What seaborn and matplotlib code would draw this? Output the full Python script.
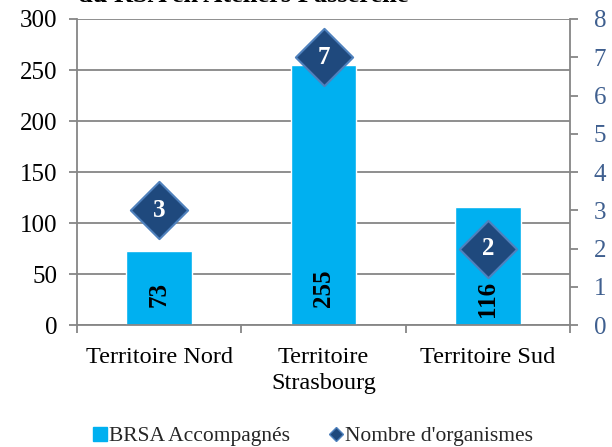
import pandas as pd
import matplotlib
matplotlib.use("Agg")
import matplotlib.pyplot as plt
import seaborn as sns
from matplotlib.lines import Line2D

# data
territoires = ['Territoire Nord', 'Territoire\nStrasbourg', 'Territoire Sud']
brsa_accompagnes = [73, 255, 116]
nb_organismes = [3, 7, 2]

bar_color = '#00B0F0'
diamond_face = '#1F497D'
diamond_edge = '#4F81BD'
grid_grey = '#868686'
right_color = '#3F5F8F'
label_pad = [13, 13, 6]  # offset of the rotated labels above the bar base (pt)

df = pd.DataFrame({'Territoire': territoires,
                   'BRSA': brsa_accompagnes,
                   'Organismes': nb_organismes})

sns.set_theme(style='white')
plt.rcParams['font.family'] = ['Liberation Serif', 'DejaVu Serif']

fig = plt.figure(figsize=(6.12, 4.47), dpi=100)
ax = fig.add_axes([0.1258, 0.2729, 0.8056, 0.6846])

sns.barplot(data=df, x='Territoire', y='BRSA', color=bar_color, width=0.4,
            saturation=1, ax=ax, zorder=2)
ax.set_ylim(0, 300)
ax.set_xlim(-0.5, 2.5)
ax.set_yticks(range(0, 301, 50))
ax.yaxis.grid(True, color=grid_grey, linewidth=1.3, zorder=0)
ax.set_axisbelow(True)
ax.set_xlabel('')
ax.set_ylabel('')
for side in ['left', 'right', 'bottom']:
    ax.spines[side].set_color(grid_grey)
    ax.spines[side].set_linewidth(1.3)
ax.spines['top'].set_visible(False)
ax.tick_params(axis='y', colors=grid_grey, labelcolor='black', labelsize=18,
               length=6, width=1.3, direction='out', left=True, pad=8)
ax.set_xticks(range(len(territoires)), labels=territoires, linespacing=1.3)
ax.tick_params(axis='x', labelsize=17.5, length=0, pad=16, labelcolor='black')
ax.set_xticks([-0.5, 0.5, 1.5, 2.5], minor=True)
ax.tick_params(axis='x', which='minor', length=6, width=1.3, colors=grid_grey,
               direction='out', bottom=True)

for i, v in enumerate(brsa_accompagnes):
    ax.annotate(str(v), xy=(i, 0), xytext=(0, label_pad[i]),
                textcoords='offset points', ha='center', va='bottom',
                rotation=90, fontsize=18, fontweight='bold', color='black',
                zorder=3)

ax2 = ax.twinx()
sns.scatterplot(x=list(range(len(territoires))), y=nb_organismes, marker='D',
                s=850, color=diamond_face, edgecolor=diamond_edge,
                linewidth=1.5, ax=ax2, zorder=4, legend=False)
ax2.set_ylim(0, 8)
ax2.set_yticks(range(0, 9))
for side in ['left', 'right', 'bottom', 'top']:
    ax2.spines[side].set_visible(False)
ax2.tick_params(axis='y', colors=grid_grey, labelcolor=right_color,
                labelsize=18, length=6, width=1.3, direction='out', right=True,
                pad=11)
for i, v in enumerate(nb_organismes):
    ax2.text(i, v, str(v), ha='center', va='center', fontsize=18,
             fontweight='bold', color='white', zorder=5)

fig.text(0.397, 1 - 1.5 / 447, 'du RSA en Ateliers Passerelle', ha='center',
         va='baseline', fontsize=19, fontweight='bold', color='black')

handles = [Line2D([], [], marker='s', linestyle='', markersize=10,
                  markerfacecolor=bar_color, markeredgecolor=bar_color),
           Line2D([], [], marker='D', linestyle='', markersize=7,
                  markerfacecolor=diamond_face, markeredgecolor=diamond_edge)]
fig.legend(handles, ['BRSA Accompagnés', "Nombre d'organismes"], loc='center',
           bbox_to_anchor=(0.512, 0.024), ncol=2, frameon=False, fontsize=15.5,
           handlelength=0.6, handletextpad=0.15, columnspacing=1.8)

fig.savefig('out.png', dpi=100)
